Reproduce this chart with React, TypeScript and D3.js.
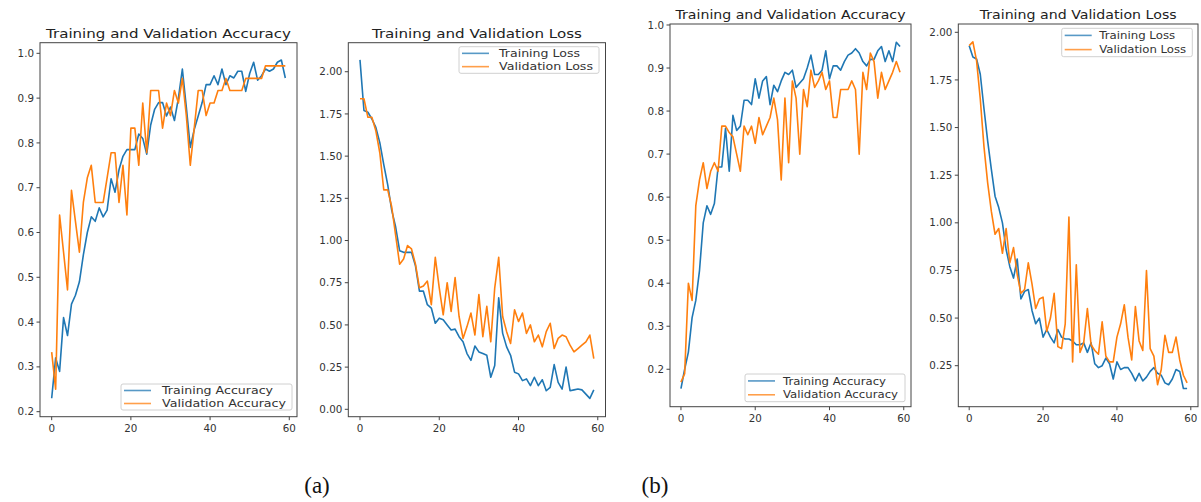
import * as d3 from "d3";

// epoch index (x axis)
const epochs = d3.range(60);

// (a) accuracy
const accTrainA = [0.23, 0.32, 0.29, 0.41, 0.37, 0.44, 0.46, 0.49, 0.55, 0.6, 0.635, 0.625, 0.655, 0.635, 0.65, 0.72, 0.69, 0.74, 0.77, 0.785, 0.785, 0.785, 0.82, 0.81, 0.775, 0.84, 0.875, 0.89, 0.89, 0.86, 0.88, 0.85, 0.9, 0.965, 0.88, 0.79, 0.83, 0.86, 0.89, 0.93, 0.93, 0.95, 0.93, 0.965, 0.93, 0.95, 0.945, 0.96, 0.96, 0.915, 0.955, 0.98, 0.94, 0.95, 0.965, 0.96, 0.965, 0.98, 0.985, 0.945];
const accValA = [0.333, 0.25, 0.639, 0.556, 0.472, 0.694, 0.625, 0.556, 0.667, 0.722, 0.75, 0.667, 0.667, 0.667, 0.722, 0.778, 0.778, 0.667, 0.75, 0.639, 0.833, 0.833, 0.75, 0.889, 0.778, 0.917, 0.917, 0.917, 0.833, 0.889, 0.861, 0.917, 0.889, 0.944, 0.861, 0.75, 0.833, 0.917, 0.917, 0.861, 0.889, 0.889, 0.917, 0.917, 0.944, 0.917, 0.917, 0.917, 0.917, 0.944, 0.944, 0.944, 0.944, 0.944, 0.972, 0.972, 0.972, 0.972, 0.972, 0.972];

// (a) loss
const lossTrainA = [2.07, 1.77, 1.76, 1.72, 1.67, 1.58, 1.45, 1.33, 1.18, 1.08, 0.94, 0.93, 0.93, 0.93, 0.85, 0.7, 0.7, 0.62, 0.6, 0.51, 0.54, 0.53, 0.5, 0.47, 0.475, 0.43, 0.4, 0.33, 0.29, 0.375, 0.34, 0.33, 0.32, 0.19, 0.26, 0.66, 0.45, 0.37, 0.32, 0.22, 0.21, 0.17, 0.18, 0.14, 0.19, 0.14, 0.175, 0.11, 0.13, 0.265, 0.16, 0.12, 0.25, 0.11, 0.115, 0.12, 0.115, 0.09, 0.065, 0.115];
const lossValA = [1.84, 1.84, 1.73, 1.73, 1.65, 1.52, 1.3, 1.3, 1.2, 1.03, 0.86, 0.89, 0.97, 0.95, 0.86, 0.72, 0.73, 0.76, 0.62, 0.9, 0.72, 0.56, 0.75, 0.58, 0.78, 0.55, 0.42, 0.49, 0.57, 0.44, 0.68, 0.43, 0.61, 0.4, 0.72, 0.9, 0.55, 0.46, 0.39, 0.59, 0.52, 0.57, 0.45, 0.5, 0.4, 0.44, 0.37, 0.46, 0.51, 0.36, 0.42, 0.44, 0.43, 0.38, 0.34, 0.36, 0.38, 0.4, 0.44, 0.3];

// (b) accuracy
const accTrainB = [0.155, 0.2, 0.24, 0.32, 0.36, 0.43, 0.54, 0.58, 0.56, 0.585, 0.67, 0.67, 0.76, 0.66, 0.79, 0.755, 0.765, 0.825, 0.825, 0.815, 0.875, 0.83, 0.87, 0.88, 0.815, 0.86, 0.845, 0.87, 0.89, 0.885, 0.895, 0.855, 0.865, 0.875, 0.9, 0.93, 0.885, 0.885, 0.895, 0.94, 0.875, 0.905, 0.905, 0.895, 0.915, 0.93, 0.935, 0.945, 0.935, 0.915, 0.905, 0.92, 0.92, 0.94, 0.95, 0.915, 0.94, 0.915, 0.96, 0.95];
const accValB = [0.17, 0.19, 0.4, 0.36, 0.58, 0.64, 0.68, 0.62, 0.66, 0.68, 0.66, 0.765, 0.765, 0.75, 0.74, 0.7, 0.66, 0.765, 0.745, 0.765, 0.725, 0.785, 0.745, 0.765, 0.785, 0.83, 0.78, 0.64, 0.83, 0.68, 0.87, 0.83, 0.7, 0.85, 0.81, 0.895, 0.855, 0.87, 0.89, 0.85, 0.87, 0.785, 0.785, 0.85, 0.85, 0.85, 0.87, 0.85, 0.7, 0.89, 0.85, 0.935, 0.915, 0.83, 0.89, 0.85, 0.87, 0.89, 0.915, 0.89];

// (b) loss
const lossTrainB = [1.93, 1.87, 1.86, 1.78, 1.6, 1.43, 1.28, 1.14, 1.08, 1.0, 0.86, 0.77, 0.71, 0.81, 0.6, 0.64, 0.65, 0.54, 0.47, 0.5, 0.4, 0.44, 0.4, 0.37, 0.44, 0.4, 0.39, 0.39, 0.38, 0.36, 0.36, 0.37, 0.32, 0.37, 0.26, 0.24, 0.25, 0.29, 0.26, 0.18, 0.27, 0.23, 0.24, 0.24, 0.21, 0.17, 0.21, 0.17, 0.19, 0.22, 0.24, 0.21, 0.2, 0.16, 0.15, 0.18, 0.23, 0.22, 0.13, 0.13];
const lossValB = [1.93, 1.95, 1.85, 1.65, 1.4, 1.21, 1.06, 0.94, 0.97, 0.84, 0.97, 0.79, 0.87, 0.73, 0.63, 0.65, 0.79, 0.68, 0.55, 0.6, 0.61, 0.43, 0.5, 0.63, 0.35, 0.34, 0.47, 1.03, 0.27, 0.78, 0.32, 0.37, 0.55, 0.36, 0.33, 0.31, 0.48, 0.3, 0.27, 0.27, 0.4, 0.47, 0.57, 0.4, 0.28, 0.56, 0.38, 0.33, 0.75, 0.34, 0.3, 0.15, 0.23, 0.41, 0.32, 0.32, 0.4, 0.28, 0.2, 0.16];

const xTicks = [0, 20, 40, 60];
const accTicks = [0.2, 0.3, 0.4, 0.5, 0.6, 0.7, 0.8, 0.9, 1.0];
const lossTicksA = [0, 0.25, 0.5, 0.75, 1.0, 1.25, 1.5, 1.75, 2.0];
const lossTicksB = [0.25, 0.5, 0.75, 1.0, 1.25, 1.5, 1.75, 2.0];

const BLUE = "#1f77b4";
const ORANGE = "#ff7f0e";
const FONT = "DejaVu Sans, sans-serif";
const TXT = "#333";

function Panel({ cfg }) {
  const [x0, x1, y0, y1] = cfg.box;
  const x = d3.scaleLinear([-2.95, 61.95], [x0, x1]);
  const y = d3.scaleLinear(cfg.yDomain, [y1, y0]);
  const line = d3.line<number>().x((_, i) => x(epochs[i])).y((d) => y(d));
  const f = d3.format(cfg.fmt);
  const [lx0, lx1, ly0, ly1] = cfg.legend;
  const rowH = (ly1 - ly0) / 2;
  return (
    <g>
      <text x={(x0 + x1) / 2} y={y0 - 5} textAnchor="middle" fontSize={12.5}
        textLength={cfg.titleLen} lengthAdjust="spacingAndGlyphs" fill="#222">{cfg.title}</text>
      <path d={line(cfg.train)} fill="none" stroke={BLUE} strokeWidth={1.6} strokeLinejoin="round" />
      <path d={line(cfg.val)} fill="none" stroke={ORANGE} strokeWidth={1.6} strokeLinejoin="round" />
      <rect x={x0} y={y0} width={x1 - x0} height={y1 - y0} fill="none" stroke="#444" strokeWidth={1} />
      {cfg.yTicks.map((t) => (
        <g key={"y" + t}>
          <line x1={x0 - 3.5} x2={x0} y1={y(t)} y2={y(t)} stroke="#444" />
          <text x={x0 - 6} y={y(t)} dy="0.35em" textAnchor="end" fontSize={10.3} fill={TXT}>{f(t)}</text>
        </g>
      ))}
      {xTicks.map((t) => (
        <g key={"x" + t}>
          <line x1={x(t)} x2={x(t)} y1={y1} y2={y1 + 3.5} stroke="#444" />
          <text x={x(t)} y={y1 + 7} dy="0.8em" textAnchor="middle" fontSize={10.3} fill={TXT}>{t}</text>
        </g>
      ))}
      <rect x={lx0} y={ly0} width={lx1 - lx0} height={ly1 - ly0} fill="#fff" fillOpacity={0.8} stroke="#d0d0d0" rx={2} />
      {[BLUE, ORANGE].map((c, i) => (
        <g key={c}>
          <line x1={lx0 + 3} x2={lx0 + 30} y1={ly0 + rowH * (i + 0.5)} y2={ly0 + rowH * (i + 0.5)} stroke={c} strokeWidth={1.6} opacity={0.75} />
          <text x={lx0 + cfg.textOff} y={ly0 + rowH * (i + 0.5)} dy="0.35em" fontSize={10.5} fill={TXT}
            textLength={cfg.labelLen[i]} lengthAdjust="spacingAndGlyphs">{cfg.labels[i]}</text>
        </g>
      ))}
    </g>
  );
}

const config = [
  {
    title: "Training and Validation Accuracy", titleLen: 245,
    box: [40, 297, 42.7, 416.7], yDomain: [0.1888, 1.0237],
    train: accTrainA, val: accValA, yTicks: accTicks, fmt: ".1f",
    labels: ["Training Accuracy", "Validation Accuracy"], legend: [121, 292, 384, 410],
    textOff: 41, labelLen: [111, 124],
  },
  {
    title: "Training and Validation Loss", titleLen: 210,
    box: [348.3, 605.5, 42.7, 416.7], yDomain: [-0.0438, 2.172],
    train: lossTrainA, val: lossValA, yTicks: lossTicksA, fmt: ".2f",
    labels: ["Training Loss", "Validation Loss"], legend: [459, 599, 46.7, 73.3],
    textOff: 40, labelLen: [81, 94],
  },
  {
    title: "Training and Validation Accuracy", titleLen: 230,
    box: [670, 911, 24, 406.7], yDomain: [0.113, 1.0023],
    train: accTrainB, val: accValB, yTicks: accTicks, fmt: ".1f",
    labels: ["Training Accuracy", "Validation Accuracy"], legend: [745, 905, 374, 401.7],
    textOff: 38, labelLen: [103, 115],
  },
  {
    title: "Training and Validation Loss", titleLen: 197,
    box: [958.3, 1198, 24, 406.7], yDomain: [0.0348, 2.0436],
    train: lossTrainB, val: lossValB, yTicks: lossTicksB, fmt: ".2f",
    labels: ["Training Loss", "Validation Loss"], legend: [1061.7, 1192.3, 28.3, 56.7],
    textOff: 37.5, labelLen: [76, 87],
  },
];

export default function App() {
  return (
    <svg width={1201} height={502} style={{ position: "absolute", left: 0, top: 0, background: "#fff" }}
      fontFamily={FONT}>
      <rect width={1201} height={502} fill="#fff" />
      {config.map((c, i) => <Panel key={i} cfg={c} />)}
      <text x={317} y={493} textAnchor="middle" fontSize={23} fontFamily="Liberation Serif, serif" fill="#111">(a)</text>
      <text x={655} y={493} textAnchor="middle" fontSize={23} fontFamily="Liberation Serif, serif" fill="#111">(b)</text>
    </svg>
  );
}
